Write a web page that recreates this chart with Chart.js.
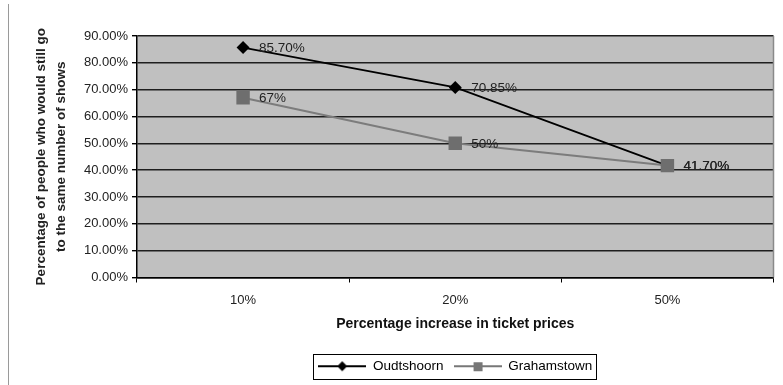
<!DOCTYPE html>
<html>
<head>
<meta charset="utf-8">
<script src="https://cdn.jsdelivr.net/npm/chart.js@4/dist/chart.umd.min.js"></script>
<style>
  html, body { margin: 0; padding: 0; background: #ffffff; }
  #wrap { width: 783px; height: 385px; position: relative; }
</style>
</head>
<body>
<div id="wrap"><canvas id="c" width="783" height="385"></canvas></div>
<script>
// ---- Data ----
const categories = ['10%', '20%', '50%'];
const oudtshoornValues = [85.70, 70.85, 41.70];
const grahamstownValues = [67, 50, 41.70];
const oudtshoornLabels = ['85.70%', '70.85%', '41.70%'];
const grahamstownLabels = ['67%', '50%', '41.70%'];
const seriesNames = ['Oudtshoorn', 'Grahamstown'];
const yTickValues = [0, 10, 20, 30, 40, 50, 60, 70, 80, 90];
const yTitle = ['Percentage of people who would still go', 'to the same number of shows'];
const xTitle = 'Percentage increase in ticket prices';

const FONT = 'Arial, "Liberation Sans", sans-serif';

function legendIcon(color, shape) {
  const cv = document.createElement('canvas');
  cv.width = 48; cv.height = 14;
  const c = cv.getContext('2d');
  c.strokeStyle = color; c.lineWidth = 2;
  c.beginPath(); c.moveTo(0, 7); c.lineTo(48, 7); c.stroke();
  c.fillStyle = color;
  if (shape === 'diamond') {
    c.beginPath(); c.moveTo(24, 2); c.lineTo(29, 7); c.lineTo(24, 12); c.lineTo(19, 7); c.closePath(); c.fill();
  } else {
    c.fillRect(20, 3, 9, 9);
  }
  return cv;
}
const oudIcon = legendIcon('#000000', 'diamond');
const graIcon = legendIcon('#777777', 'square');

const bgPlugin = {
  id: 'bgPlugin',
  beforeDraw(chart) {
    const { ctx, chartArea: a } = chart;
    ctx.save();
    ctx.fillStyle = '#c0c0c0';
    ctx.fillRect(a.left, a.top, a.right - a.left, a.bottom - a.top);
    ctx.strokeStyle = '#9a9a9a';
    ctx.lineWidth = 1;
    ctx.beginPath(); ctx.moveTo(8.5, 4); ctx.lineTo(8.5, 385); ctx.stroke();
    ctx.restore();
  },
  afterDraw(chart) {
    const { ctx, chartArea: a } = chart;
    ctx.save();
    ctx.strokeStyle = '#8a8a8a';
    ctx.lineWidth = 1.5;
    ctx.beginPath(); ctx.moveTo(a.right, a.top); ctx.lineTo(a.right, a.bottom); ctx.stroke();
    const lg = chart.legend;
    if (lg && lg.legendHitBoxes && lg.legendHitBoxes.length) {
      const hb = lg.legendHitBoxes;
      const l = hb[0].left - 5;
      const r = hb[hb.length - 1].left + hb[hb.length - 1].width + 4;
      const t = hb[0].top - 6;
      const b = hb[0].top + hb[0].height + 5;
      ctx.strokeStyle = '#000';
      ctx.lineWidth = 1;
      ctx.strokeRect(Math.round(l) + 0.5, Math.round(t) + 0.5, Math.round(r - l), Math.round(b - t));
    }
    ctx.restore();
  }
};

const labelPlugin = {
  id: 'labelPlugin',
  afterDatasetsDraw(chart) {
    const { ctx } = chart;
    const allLabels = [oudtshoornLabels, grahamstownLabels];
    ctx.save();
    ctx.font = '13.5px ' + FONT;
    ctx.fillStyle = '#222';
    ctx.textAlign = 'left';
    ctx.textBaseline = 'middle';
    chart.data.datasets.forEach((ds, i) => {
      const meta = chart.getDatasetMeta(i);
      meta.data.forEach((pt, j) => {
        ctx.fillText(allLabels[i][j], pt.x + 16, pt.y + 1);
      });
    });
    ctx.restore();
  }
};

new Chart(document.getElementById('c'), {
  type: 'line',
  data: {
    labels: categories,
    datasets: [
      {
        label: seriesNames[0],
        data: oudtshoornValues,
        borderColor: '#000000',
        backgroundColor: '#000000',
        borderWidth: 1.8,
        pointStyle: 'rectRot',
        pointRadius: 6.5,
        pointBorderWidth: 0,
        order: 1,
        tension: 0
      },
      {
        label: seriesNames[1],
        data: grahamstownValues,
        borderColor: '#7c7c7c',
        backgroundColor: '#6e6e6e',
        borderWidth: 2,
        pointStyle: 'rect',
        pointRadius: 9.5,
        pointBorderWidth: 0,
        order: 0,
        tension: 0
      }
    ]
  },
  options: {
    responsive: false,
    animation: false,
    layout: { padding: { left: 0, right: 6, top: 36, bottom: 2 } },
    plugins: {
      tooltip: { enabled: false },
      legend: {
        position: 'bottom',
        fullSize: false,
        labels: {
          usePointStyle: true,
          pointStyleWidth: 48,
          padding: 10,
          color: '#222',
          font: { family: FONT, size: 13.5 },
          sort: (a, b) => a.datasetIndex - b.datasetIndex,
          generateLabels(chart) {
            return chart.data.datasets.map((ds, i) => ({
              text: ds.label,
              pointStyle: i === 0 ? oudIcon : graIcon,
              fillStyle: ds.borderColor,
              strokeStyle: ds.borderColor,
              lineWidth: 0,
              hidden: false,
              datasetIndex: i
            }));
          }
        }
      }
    },
    scales: {
      x: {
        offset: true,
        grid: {
          offset: true,
          drawOnChartArea: false,
          drawTicks: true,
          tickLength: 5,
          color: '#000'
        },
        border: { color: '#000', width: 1.5 },
        ticks: { color: '#222', font: { family: FONT, size: 13 }, padding: 10 },
        title: {
          display: true,
          text: xTitle,
          color: '#111',
          font: { family: FONT, size: 14, weight: 'bold' },
          padding: { top: 4, bottom: 17 }
        },
        afterFit(scale) {
          scale.height = 72;
          scale.paddingLeft = 0;
          scale.paddingRight = 0;
        }
      },
      y: {
        min: 0,
        max: 90,
        afterBuildTicks(scale) { scale.ticks = yTickValues.map(v => ({ value: v })); },
        grid: {
          color: '#1e1e1e',
          lineWidth: 1.4,
          tickLength: 5,
          drawTicks: true,
          tickColor: '#000'
        },
        border: { color: '#000', width: 1.5 },
        ticks: {
          color: '#222',
          padding: 4,
          font: { family: FONT, size: 13 },
          callback: v => v.toFixed(2) + '%'
        },
        title: {
          display: true,
          text: yTitle,
          color: '#222',
          font: { family: FONT, size: 13.5, weight: 'bold', lineHeight: '20px' },
          padding: { top: 31, bottom: 0 }
        },
        afterFit(scale) { scale.width = 137; }
      }
    }
  },
  plugins: [bgPlugin, labelPlugin]
});
</script>
</body>
</html>
